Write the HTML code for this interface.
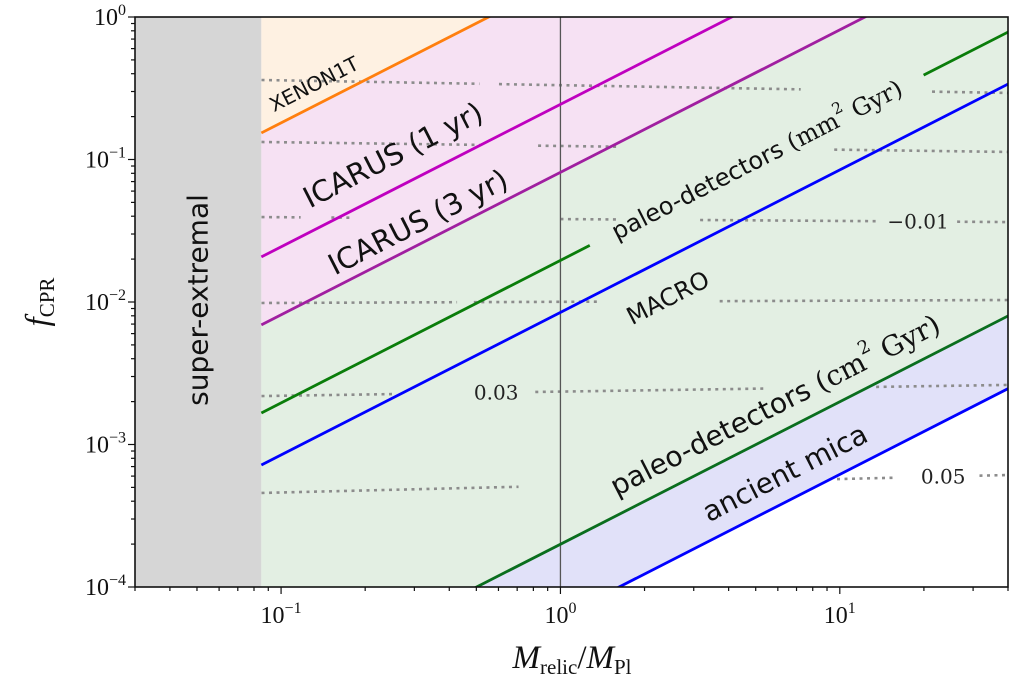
<!DOCTYPE html>
<html><head><meta charset="utf-8">
<style>
html,body{margin:0;padding:0;background:#fff;overflow:hidden;width:1024px;height:686px;}
svg{display:block;}
.serif{font-family:"DejaVu Serif","Liberation Serif",serif;}
.lserif{font-family:"Liberation Serif","DejaVu Serif",serif;}
.sans{font-family:"DejaVu Sans","Liberation Sans",sans-serif;}
</style></head>
<body>
<svg id="chart" width="1024" height="686" viewBox="0 0 1024 686" xmlns="http://www.w3.org/2000/svg">
<defs><clipPath id="plotclip"><rect x="135" y="17" width="873" height="570"/></clipPath></defs>
<g id="fills" clip-path="url(#plotclip)"></g>
<g id="contours" clip-path="url(#plotclip)"></g>
<g id="lines" clip-path="url(#plotclip)"></g>
<g id="labels"></g>
<g id="axes"></g>
</svg>
<script>
// ---- data (log10 values) ----
const xDomain = [0.03, 40];          // M_relic / M_Pl
const yDomain = [1e-4, 1];           // f_CPR
const superExtremalMax = 0.085;
// limit lines: f = 10^logA * M
const lineNames = ["xenon1t","icarus-1yr","icarus-3yr","paleo-mm2","macro","paleo-cm2","ancient-mica"];
const lineLogA  = [0.257, -0.613, -1.090, -1.708, -2.073, -3.70, -4.21];
const lineColors = ["#ff7f0e","#bf00bf","#a01fa0","#0a7d0a","#0000ff","#0a6e1e","#0000ff"];
// gap in paleo-mm2 line (log10 M range)
const paleoGap = [0.105, 1.3];
// contour levels: log10 f at left(x=0.085) and right(x=40)
const contourLeft  = [-0.442, -0.877, -1.404, -2.007, -2.660, -3.340];
const contourRight = [-0.533, -0.947, -1.439, -1.986, -2.582, -3.214];
// visible segments per contour in log10 M
const contourSegs = [
  [[-1.07,-0.29],[-0.22,0.86],[1.33,1.61]],
  [[-1.07,-0.29],[-0.08,0.21],[0.98,1.61]],
  [[-1.07,-0.93],[-0.82,-0.75],[0,0.21],[0.5,1.14],[1.42,1.61]],
  [[-1.07,-0.37],[-0.31,0.14],[0.57,1.61]],
  [[-1.07,-0.59],[-0.09,0.74],[1.13,1.61]],
  [[-1.07,-0.15],[0.99,1.19],[1.5,1.61]]
];
const contourLabelText = ["−0.01","0.03","0.05"];
const contourLabelLevel = [2, 4, 5];
const contourLabelLogX = [1.28, -0.23, 1.37];
const xTickExp = [-1, 0, 1];
const yTickExp = [0, -1, -2, -3, -4];

// ---- scales ----
const X0=135, X1=1008, Y0=17, Y1=587;
const lx0=Math.log10(xDomain[0]), lx1=Math.log10(xDomain[1]);
const ly0=Math.log10(yDomain[0]), ly1=Math.log10(yDomain[1]);
function sxL(l){return X0+(l-lx0)/(lx1-lx0)*(X1-X0);}
function syL(l){return Y1-(l-ly0)/(ly1-ly0)*(Y1-Y0);}
function sx(v){return sxL(Math.log10(v));}
function sy(v){return syL(Math.log10(v));}
const NS="http://www.w3.org/2000/svg";
function mk(tag,attrs,parent){const e=document.createElementNS(NS,tag);for(const k in attrs)e.setAttribute(k,attrs[k]);parent.appendChild(e);return e;}

const fills=document.getElementById('fills'), lines=document.getElementById('lines'),
      contours=document.getElementById('contours'), labels=document.getElementById('labels'), axes=document.getElementById('axes');
const lSE=Math.log10(superExtremalMax);
const lineY=(i,l)=>lineLogA[i]+l;

let g=mk('rect',{x:X0,y:Y0,width:sx(superExtremalMax)-X0,height:Y1-Y0,fill:'#d6d6d6'},fills);


function band(up,lo,color,name){
  const pts=[];
  pts.push([sxL(lSE), up<0?Y0:syL(lineY(up,lSE))]);
  pts.push([sxL(lx1), up<0?Y0:syL(lineY(up,lx1))]);
  pts.push([sxL(lx1), lo<0?Y1:Math.min(Y1,syL(lineY(lo,lx1)))]);
  pts.push([sxL(lSE), lo<0?Y1:Math.min(Y1,syL(lineY(lo,lSE)))]);
  if(lo>=0 && syL(lineY(lo,lSE))>Y1){ pts.splice(3,0,[sxL(ly0-lineLogA[lo]),Y1]); }
  const p=mk('polygon',{points:pts.map(q=>q.join(',')).join(' '),fill:color},fills);
  
  
}
band(-1,0,'#fef1e2','xenon-band');
band(0,2,'#f6e1f3','icarus-band');
band(2,5,'#e3efe3','paleo-band');
band(5,6,'#e1e1f9','mica-band');
let v=mk('line',{x1:sx(1),x2:sx(1),y1:Y0,y2:Y1,stroke:'#555',"stroke-width":1.3},lines);


lineLogA.forEach((a,i)=>{
  const segs = lineNames[i]==='paleo-mm2' ? [[lSE,paleoGap[0]],[paleoGap[1],lx1]] : [[lSE,lx1]];
  segs.forEach(s=>{
    const l=mk('line',{x1:sxL(s[0]),y1:syL(lineY(i,s[0])),x2:sxL(s[1]),y2:syL(lineY(i,s[1])),stroke:lineColors[i],"stroke-width":2.8},lines);
    
    
  });
});
contourLeft.forEach((yl,i)=>{
  const yr=contourRight[i];
  const f=l=>yl+(yr-yl)*(l-lSE)/(lx1-lSE);
  contourSegs[i].forEach(s=>{
    const c=mk('line',{x1:sxL(s[0]),y1:syL(f(s[0])),x2:sxL(s[1]),y2:syL(f(s[1])),stroke:'#8c8c8c',"stroke-width":2.6,"stroke-dasharray":"3,4.5"},contours);
    
    
  });
});
contourLabelText.forEach((t,k)=>{
  const i=contourLabelLevel[k], yl=contourLeft[i], yr=contourRight[i];
  const l=contourLabelLogX[k], yv=yl+(yr-yl)*(l-lSE)/(lx1-lSE);
  const e=mk('text',{x:sxL(l),y:syL(yv)+7,"text-anchor":"middle","font-size":20,class:"serif",fill:'#222'},labels);
  e.textContent=t;
  
  
});
function rlabel(txt,x,y,size,name,serifPart){
  const e=mk('text',{x:x,y:y,"text-anchor":"middle","dominant-baseline":"central","font-size":size,class:"sans",fill:'#111',transform:`rotate(-27 ${x} ${y})`},labels);
  
  
  e.appendChild(document.createTextNode(txt));
  if(serifPart){
    const s=mk('tspan',{class:'serif'},e); s.textContent=serifPart[0];
    const s2=mk('tspan',{class:'serif',"font-size":size*0.65,dy:-size*0.4}, e); s2.textContent='2';
    const s3=mk('tspan',{class:'serif',dy:size*0.4},e); s3.textContent=' Gyr)';
  }
}
rlabel('XENON1T',314,84,20,'xenon1t-label');
rlabel('ICARUS (1 yr)',393,155,29,'icarus-1yr-label');
rlabel('ICARUS (3 yr)',418,222,29,'icarus-3yr-label');
rlabel('paleo-detectors ',757,160,24,'paleo-mm2-label',['(mm']);
rlabel('MACRO',668,298,24,'macro-label');
rlabel('paleo-detectors ',775,405,28,'paleo-cm2-label',['(cm']);
rlabel('ancient mica',785,473,28,'ancient-mica-label');
let se=mk('text',{x:198,y:300,"text-anchor":"middle","dominant-baseline":"central","font-size":28,class:"sans",fill:'#111',transform:'rotate(-90 198 300)'},labels);
se.textContent='super-extremal';



let fr=mk('rect',{x:X0,y:Y0,width:X1-X0,height:Y1-Y0,fill:'none',stroke:'#111',"stroke-width":1.6},axes);


for(let e=-2;e<=1;e++){for(let m=1;m<10;m++){const v=m*Math.pow(10,e);if(v<xDomain[0]||v>xDomain[1])continue;const x=sx(v);
  const t=mk('line',{x1:x,x2:x,y1:Y1,y2:Y1+(m===1?7:4),stroke:'#111',"stroke-width":1.2},axes);
  
  }}
xTickExp.forEach(e=>{const x=sx(Math.pow(10,e));
  const t=mk('text',{x:x,y:Y1+36,"text-anchor":"middle","font-size":24,class:"lserif",fill:'#111'},axes);
  
  
  t.appendChild(document.createTextNode('10'));
  const s=mk('tspan',{"font-size":16,dy:-10},t); s.textContent=(e<0?'−':'')+Math.abs(e);});
for(let e=-4;e<=0;e++){for(let m=1;m<10;m++){const v=m*Math.pow(10,e);if(v<yDomain[0]*0.999||v>yDomain[1]*1.001)continue;const y=sy(v);
  const t=mk('line',{x1:X0,x2:X0-(m===1?7:4),y1:y,y2:y,stroke:'#111',"stroke-width":1.2},axes);
  
  }}
yTickExp.forEach(e=>{const y=sy(Math.pow(10,e));
  const t=mk('text',{x:X0-9,y:y+8,"text-anchor":"end","font-size":24,class:"lserif",fill:'#111'},axes);
  
  
  t.appendChild(document.createTextNode('10'));
  const s=mk('tspan',{"font-size":16,dy:-10},t); s.textContent=(e<0?'−':'')+Math.abs(e);});
let xt=mk('text',{x:572,y:668,"text-anchor":"middle","font-size":33,class:"lserif",fill:'#111'},axes);


xt.innerHTML='<tspan font-style="italic">M</tspan><tspan font-size="21" dy="6">relic</tspan><tspan dy="-6">/</tspan><tspan font-style="italic">M</tspan><tspan font-size="21" dy="6">Pl</tspan>';
let yt=mk('text',{x:48,y:302,"text-anchor":"middle","font-size":33,class:"lserif",fill:'#111',transform:'rotate(-90 48 302)'},axes);


yt.innerHTML='<tspan font-style="italic">f</tspan><tspan font-size="21" dy="6">CPR</tspan>';
</script>
</body></html>
